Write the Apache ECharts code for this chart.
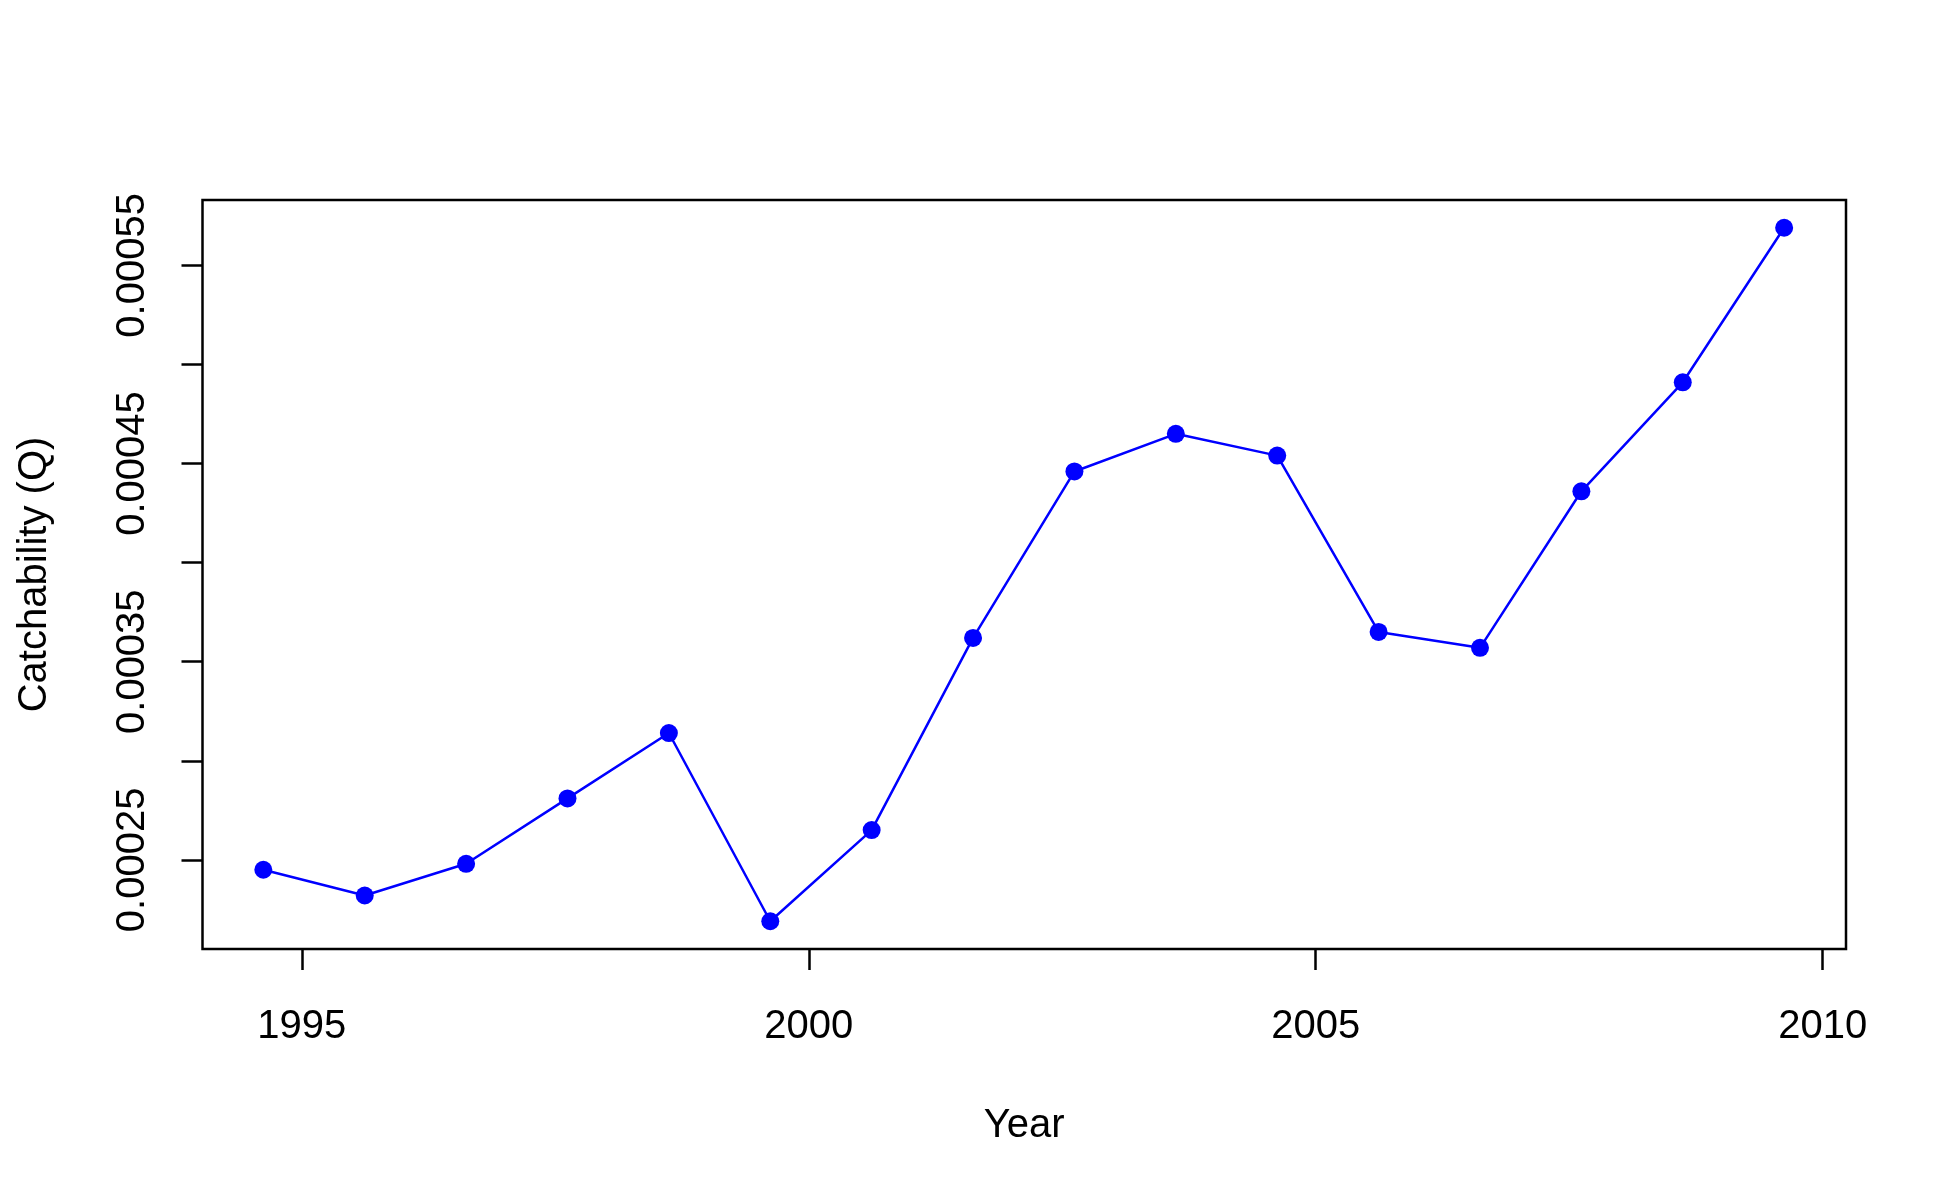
<!DOCTYPE html>
<html>
<head>
<meta charset="utf-8">
<script src="https://cdn.jsdelivr.net/npm/echarts@6/dist/echarts.min.js"></script>
<style>
html,body{margin:0;padding:0;background:#fff;}
#main{width:1950px;height:1200px;}
</style>
</head>
<body>
<div id="main"></div>
<script>
// catchability by year
var years = [1994.62, 1995.62, 1996.62, 1997.62, 1998.62, 1999.62, 2000.62, 2001.62,
             2002.62, 2003.62, 2004.62, 2005.62, 2006.62, 2007.62, 2008.62, 2009.62];
var catchQ = [0.000245, 0.000232, 0.000248, 0.000281, 0.000314, 0.000219, 0.000265, 0.000362,
              0.000446, 0.000465, 0.000454, 0.000365, 0.000357, 0.000436, 0.000491, 0.000569];
var xTicks = [1995, 2000, 2005, 2010];
var yTicks = [0.00025, 0.0003, 0.00035, 0.0004, 0.00045, 0.0005, 0.00055];
var yLabels = [0.00025, 0.00035, 0.00045, 0.00055];

var seriesData = [];
years.forEach(function(y, i){
    seriesData.push([y, catchQ[i]]);
});

var font = 'Liberation Sans, Arial, sans-serif';
var myChart = echarts.init(document.getElementById('main'));
var option = {
    animation: false,
    grid: {
        left: 202.5, right: 104, top: 200, bottom: 251,
        show: true, borderColor: '#000', borderWidth: 2.5, backgroundColor: 'transparent'
    },
    xAxis: {
        type: 'value',
        min: 1994.02,
        max: 2010.23,
        name: 'Year',
        nameLocation: 'middle',
        nameGap: 157,
        nameTextStyle: {color: '#000', fontSize: 40, fontFamily: font},
        axisLine: {show: false},
        splitLine: {show: false},
        axisTick: {
            show: true, length: 21, customValues: xTicks,
            lineStyle: {color: '#000', width: 2.5}
        },
        axisLabel: {
            customValues: xTicks, margin: 58,
            color: '#000', fontSize: 40, fontFamily: font,
            formatter: function(v){ return String(v); }
        }
    },
    yAxis: {
        type: 'value',
        min: 0.000205,
        max: 0.000583,
        name: 'Catchability (Q)',
        nameLocation: 'middle',
        nameGap: 148,
        nameTextStyle: {color: '#000', fontSize: 40, fontFamily: font},
        axisLine: {show: false},
        splitLine: {show: false},
        axisTick: {
            show: true, length: 21, customValues: yTicks,
            lineStyle: {color: '#000', width: 2.5}
        },
        axisLabel: {
            customValues: yLabels, rotate: 90, margin: 50,
            color: '#000', fontSize: 40, fontFamily: font,
            formatter: function(v){ return v.toFixed(5); }
        }
    },
    series: [
        {
            type: 'line',
            data: seriesData,
            symbol: 'circle',
            symbolSize: 18,
            lineStyle: {color: '#0000ff', width: 2.5},
            itemStyle: {color: '#0000ff'}
        }
    ]
};
myChart.setOption(option);
</script>
</body>
</html>
